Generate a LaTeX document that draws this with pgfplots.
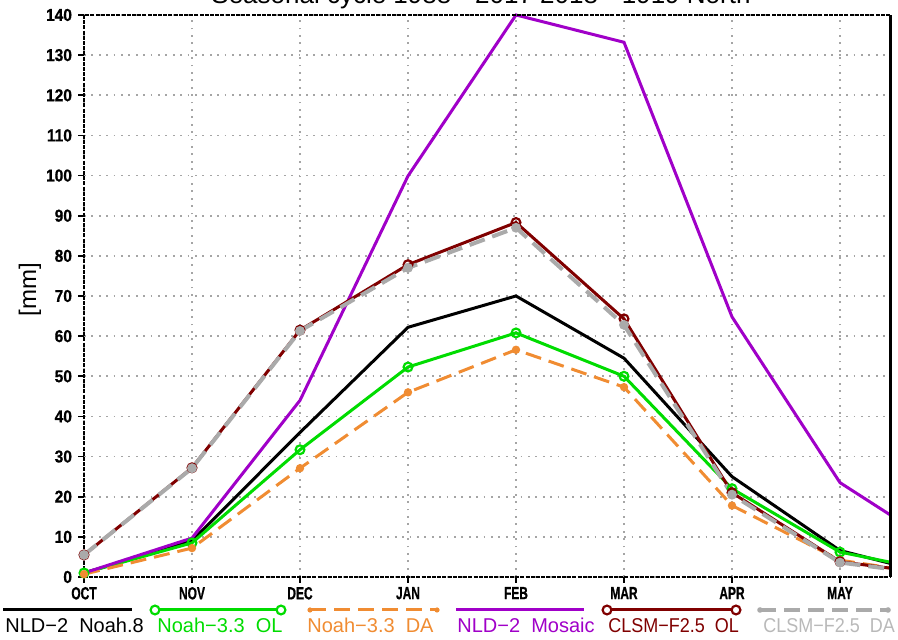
\documentclass[border=0pt]{standalone}
\usepackage{pgfplots}
\pgfplotsset{compat=1.18}
\usepackage{fontspec}
\setmainfont{Liberation Sans}
\newfontfamily\ytickfont[FakeStretch=0.9,FakeBold=0.8]{Liberation Sans}
\newfontfamily\xtickfont[FakeStretch=0.68,FakeBold=0.8]{Liberation Sans}
\newfontfamily\legnarrow[FakeStretch=0.9]{Liberation Sans}
\definecolor{cgreen}{RGB}{0,220,0}
\definecolor{corange}{RGB}{240,140,50}
\definecolor{cpurple}{RGB}{160,0,200}
\definecolor{cred}{RGB}{128,0,0}
\definecolor{cgray}{RGB}{170,170,170}
\definecolor{cgraytxt}{RGB}{185,185,185}
\definecolor{cgrid}{RGB}{165,165,165}
\begin{document}
\begin{tikzpicture}[x=1pt,y=1pt]
\begin{axis}[at={(42pt,31.5pt)}, anchor=south west, width=403pt, height=281pt, scale only axis,
  xmin=0, xmax=7.463, ymin=0, ymax=140,
  xtick={0,...,7}, xticklabels={OCT,NOV,DEC,JAN,FEB,MAR,APR,MAY},
  ytick={0,10,...,140},
  grid=major, major grid style={cgrid, line width=0.9pt, dash pattern=on 0.9pt off 2.8pt},
  axis line style={draw=none},
  tick style={black, line width=0.8pt}, tick align=outside, major tick length=3pt,
  xtick pos=bottom, ytick pos=left,
  yticklabel style={font=\ytickfont\bfseries\fontsize{8.6}{8.6}\selectfont, xshift=0.5pt},
  xticklabel style={font=\xtickfont\bfseries\fontsize{8.8}{8.8}\selectfont, yshift=1.5pt},
  /pgf/number format/assume math mode=true,
  clip=false]
\addplot[black, line width=1.5pt] coordinates {(0,1) (1,9) (2,36) (3,62.2) (4,70) (5,54.5) (6,25) (7,6.6) (7.463,3.4)};
\addplot[cgreen, line width=1.5pt, mark=o, mark size=2.2pt, mark options={solid,line width=1.1pt}, mark indices={1,...,8}] coordinates {(0,1) (1,8.5) (2,31.7) (3,52.3) (4,60.8) (5,50) (6,22) (7,6.2) (7.463,3.7)};
\addplot[corange, line width=1.5pt, dash pattern=on 8pt off 4pt, mark=*, mark size=1.3pt, mark options={solid}, mark indices={1,...,8}] coordinates {(0,0.7) (1,7.2) (2,27.1) (3,46) (4,56.6) (5,47.3) (6,17.8) (7,4.2) (7.463,2.3)};
\addplot[cpurple, line width=1.5pt] coordinates {(0,1) (1,9.7) (2,44) (3,99.9) (4,140) (5,133.2) (6,64.8) (7,23.5) (7.463,15.5)};
\addplot[cred, line width=1.5pt, mark=o, mark size=2.2pt, mark options={solid,line width=1.1pt}, mark indices={1,...,8}] coordinates {(0,5.5) (1,27.2) (2,61.5) (3,77.8) (4,88.3) (5,64.3) (6,21) (7,3.8) (7.463,2.2)};
\addplot[cgray, line width=2pt, dash pattern=on 8pt off 4pt, mark=*, mark size=1.4pt, mark options={solid}, mark indices={1,...,8}] coordinates {(0,5.5) (1,27.1) (2,61.3) (3,77) (4,87) (5,62.8) (6,20.5) (7,3.6) (7.463,2.0)};
\draw[line width=1.3pt, dash pattern=on 2pt off 0.6pt] (rel axis cs:1,1) -- (rel axis cs:0,1) -- (rel axis cs:0,0) -- (rel axis cs:1,0);
\draw[line width=1.5pt] (rel axis cs:1,0) -- (rel axis cs:1,1);
\end{axis}
% y label
\node[rotate=90] at (15pt,175pt) {\fontsize{12}{12}\selectfont [mm]};
% title (partly cut off as in the reference)
\node[anchor=base] at (240.5pt,318pt) {\fontsize{13}{13}\selectfont Seasonal cycle 1988\,−\,2017 2018\,−\,1919 North};
% legend
\begin{scope}[font=\fontsize{10}{10}\selectfont]
\draw[black, line width=1.5pt] (1.5,15) -- (66,15);
\node[anchor=base west, inner sep=0pt, black] at (2.5,3.5) {NLD−2\ \ Noah.8};
\draw[cgreen, line width=1.5pt] (77.5,15) -- (140.5,15);
\draw[cgreen, line width=1.1pt, fill=white] (77.5,15) circle (2.2pt) (140.5,15) circle (2.2pt);
\node[anchor=base west, inner sep=0pt, cgreen] at (78.5,3.5) {Noah−3.3\ \ OL};
\draw[corange, line width=1.5pt, dash pattern=on 8pt off 4pt] (155,15) -- (218.5,15);
\fill[corange] (155,15) circle (1.3pt) (218.5,15) circle (1.3pt);
\node[anchor=base west, inner sep=0pt, corange] at (153.5,3.5) {Noah−3.3\ \ DA};
\draw[cpurple, line width=1.5pt] (228,15) -- (292,15);
\node[anchor=base west, inner sep=0pt, cpurple] at (228.5,3.5) {NLD−2\ \ Mosaic};
\draw[cred, line width=1.5pt] (303.5,15) -- (368,15);
\draw[cred, line width=1.1pt, fill=white] (303.5,15) circle (2.2pt) (368,15) circle (2.2pt);
\node[anchor=base west, inner sep=0pt, cred] at (304,3.5) {\legnarrow CLSM−F2.5\ \ OL};
\draw[cgray, line width=2pt, dash pattern=on 8pt off 4pt] (380,15) -- (444,15);
\fill[cgray] (380,15) circle (1.4pt) (444,15) circle (1.4pt);
\node[anchor=base west, inner sep=0pt, cgraytxt] at (381.5,3.5) {\legnarrow CLSM−F2.5\ \ DA};
\end{scope}
\pgfresetboundingbox
\path[use as bounding box] (0,0) rectangle (449pt,320pt);
\end{tikzpicture}
\end{document}
